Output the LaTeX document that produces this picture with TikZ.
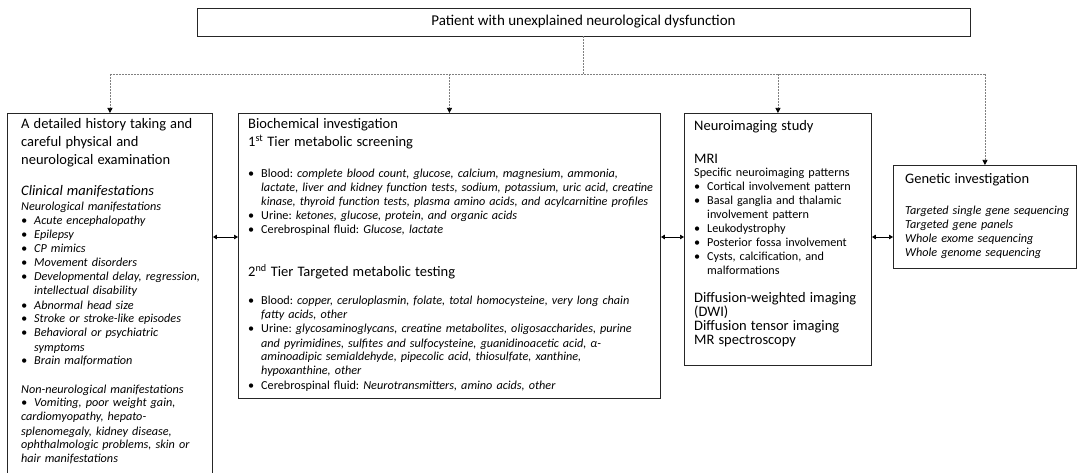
\documentclass[tikz,border=0pt]{standalone}
\usepackage{fontspec}
\setmainfont{Carlito}
\usetikzlibrary{arrows.meta}
\frenchspacing
\newcommand{\headfont}{\fontsize{14.5pt}{18pt}\selectfont}
\newcommand{\listfont}{\fontsize{12.2pt}{14pt}\selectfont}
\newcommand{\itm}[1]{\par\hangindent=13pt\hangafter=1\noindent\makebox[13pt][l]{\textbullet}#1}
\tikzset{
    panel/.style={
           rectangle,
           draw=black!85, line width=0.9pt,
           inner sep=0pt,
           anchor=north west,
           },
    boxtext/.style={
           anchor=base west,
           inner sep=0pt,
           align=left,
           font=\listfont,
           },
    link/.style={
           draw=black!50, line width=0.7pt,
           dash pattern=on 2pt off 1pt,
           },
    linkarrow/.style={
           link,
           -{Triangle[length=5pt,width=5pt,color=black]},
           },
    twoway/.style={
           line width=0.7pt,
           {Triangle[length=4pt,width=4.5pt]}-{Triangle[length=4pt,width=4.5pt]},
           },
}
\begin{document}
\begin{tikzpicture}[x=1pt, y=-1pt]
	\useasboundingbox (0,0) rectangle (1078,473);
	\clip (0,0) rectangle (1078,473);

	% patient
	\node[panel, anchor=center, minimum width=773pt, minimum height=28pt,
		font=\fontsize{15pt}{16pt}\selectfont] (top) at (583.5,22)
		{Patient with unexplained neurological dysfunction};

	% the four panels
	\node[panel, minimum width=205pt, minimum height=380pt] (hist) at (7,113) {};
	\node[panel, minimum width=422pt, minimum height=285pt] (bio) at (238,113) {};
	\node[panel, minimum width=187pt, minimum height=252pt] (neuro) at (684,113) {};
	\node[panel, minimum width=183pt, minimum height=103pt] (gen) at (893,165) {};

	\node[boxtext, text width=198pt] (histtxt) at ([xshift=14pt, yshift=-16pt]hist.north west) {
		\headfont A detailed history taking and\newline careful physical and\newline neurological examination\par
		\vspace{13pt}\textit{Clinical manifestations}\par
		\vspace{1pt}\listfont\itshape Neurological manifestations
		\itm{Acute encephalopathy}
		\itm{Epilepsy}
		\itm{CP mimics}
		\itm{Movement disorders}
		\itm{Developmental delay, regression,\newline intellectual disability}
		\itm{Abnormal head size}
		\itm{Stroke or stroke-like episodes}
		\itm{Behavioral or psychiatric\newline symptoms}
		\itm{Brain malformation}\par
		\vspace{14pt}Non-neurological manifestations
		\itm{Vomiting, poor weight gain,\newline cardiomyopathy, hepato-\newline splenomegaly, kidney disease,\newline ophthalmologic problems, skin or\newline hair manifestations}
	};

	\node[boxtext, text width=412pt] (biotxt) at ([xshift=10pt, yshift=-16pt]bio.north west) {
		\headfont Biochemical investigation\newline 1\textsuperscript{st} Tier metabolic screening\par
		\vspace{17pt}\listfont
		\itm{Blood: \textit{complete blood count, glucose, calcium, magnesium, ammonia,\newline lactate, liver and kidney function tests, sodium, potassium, uric acid, creatine\newline kinase, thyroid function tests, plasma amino acids, and acylcarnitine profiles}}
		\itm{Urine: \textit{ketones, glucose, protein, and organic acids}}
		\itm{Cerebrospinal fluid: \textit{Glucose, lactate}}\par
		\vspace{25pt}\headfont 2\textsuperscript{nd} Tier Targeted metabolic testing\par
		\vspace{14pt}\listfont
		\itm{Blood: \textit{copper, ceruloplasmin, folate, total homocysteine, very long chain\newline fatty acids, other}}
		\itm{Urine: \textit{glycosaminoglycans, creatine metabolites, oligosaccharides, purine\newline and pyrimidines, sulfites and sulfocysteine, guanidinoacetic acid, α-\newline aminoadipic semialdehyde, pipecolic acid, thiosulfate, xanthine,\newline hypoxanthine, other}}
		\itm{Cerebrospinal fluid: \textit{Neurotransmitters, amino acids, other}}
	};

	\node[boxtext, text width=182pt] (neurotxt) at ([xshift=10pt, yshift=-18pt]neuro.north west) {
		\headfont Neuroimaging study\par
		\vspace{15pt}MRI\par
		\vspace{-1pt}\listfont Specific neuroimaging patterns
		\itm{Cortical involvement pattern}
		\itm{Basal ganglia and thalamic\newline involvement pattern}
		\itm{Leukodystrophy}
		\itm{Posterior fossa involvement}
		\itm{Cysts, calcification, and\newline malformations}\par
		\vspace{13.5pt}\fontsize{14.5pt}{16.5pt}\selectfont Diffusion-weighted imaging\newline (DWI)\newline Diffusion tensor imaging\newline MR spectroscopy
	};

	\node[boxtext, text width=174pt] (gentxt) at ([xshift=12pt, yshift=-18pt]gen.north west) {
		\headfont Genetic investigation\par
		\vspace{17pt}\listfont\itshape Targeted single gene sequencing\newline Targeted gene panels\newline Whole exome sequencing\newline Whole genome sequencing
	};

	% dashed tree
	\coordinate (bus) at (0,74);
	\coordinate (mid) at (0,237);
	\draw[link] (top.south) -- (top.south |- bus);
	\draw[link] (hist.north |- bus) -- (gen.north |- bus);
	\draw[linkarrow] (hist.north |- bus) -- (hist.north);
	\draw[linkarrow] (bio.north |- bus) -- (bio.north);
	\draw[linkarrow] (neuro.north |- bus) -- (neuro.north);
	\draw[linkarrow] (gen.north |- bus) -- (gen.north);

	\draw[twoway] (hist.east |- mid) -- (bio.west |- mid);
	\draw[twoway] (bio.east |- mid) -- (neuro.west |- mid);
	\draw[twoway] (neuro.east |- mid) -- (gen.west |- mid);
\end{tikzpicture}
\end{document}
